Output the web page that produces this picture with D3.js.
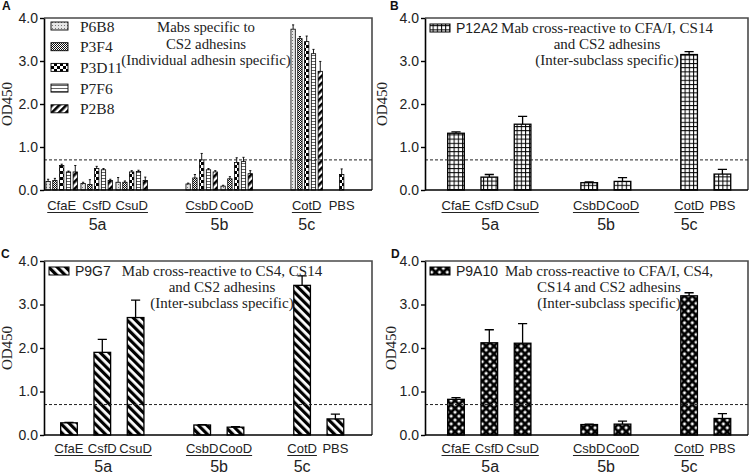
<!DOCTYPE html>
<html><head><meta charset="utf-8">
<script src="https://cdn.jsdelivr.net/npm/d3@7"></script>
<style>body{margin:0;background:#fff}svg{display:block}</style>
</head><body><svg id="c" width="750" height="473"></svg>
<script>
// ---------- data ----------
const categories = ["CfaE","CsfD","CsuD","CsbD","CooD","CotD","PBS"];
const clusters = [["CfaE","CsfD","CsuD"],["CsbD","CooD"],["CotD","PBS"]];
const groupLabels = ["5a","5b","5c"];
const groupUnderlineFrom = ["CfaE","CsbD","CotD"];
const groupUnderlineTo   = ["CsuD","CooD","CotD"];
const yTicks = [0,1,2,3,4];
const cutoff = 0.7;

// Panel A series
const seriesA = ["P6B8","P3F4","P3D11","P7F6","P2B8"];
const P6B8      = [0.20,0.15,0.18,0.14,0.09,3.74,null];
const P6B8_err  = [0.05,0.03,0.11,0.02,0.02,0.10,null];
const P3F4      = [0.22,0.13,0.18,0.28,0.26,3.52,null];
const P3F4_err  = [0.05,0.11,0.03,0.08,0.05,0.05,null];
const P3D11     = [0.57,0.50,0.42,0.70,0.64,3.45,0.36];
const P3D11_err = [0.03,0.05,0.03,0.15,0.11,0.13,0.13];
const P7F6      = [0.42,0.47,0.43,0.47,0.66,3.17,null];
const P7F6_err  = [0.02,0.03,0.03,0.03,0.10,0.10,null];
const P2B8      = [0.42,0.22,0.22,0.42,0.38,2.76,null];
const P2B8_err  = [0.15,0.03,0.08,0.03,0.07,0.23,null];

// Panels B-D
const P12A2     = [1.32,0.30,1.53,0.17,0.20,3.15,0.37];
const P12A2_err = [0.03,0.06,0.18,0.02,0.09,0.07,0.11];
const P9G7      = [0.28,1.90,2.70,0.23,0.18,3.44,0.37];
const P9G7_err  = [0.01,0.30,0.40,0.01,0.01,0.22,0.11];
const P9A10     = [0.82,2.12,2.11,0.24,0.25,3.20,0.38];
const P9A10_err = [0.04,0.30,0.45,0.01,0.07,0.07,0.11];

const titleA = ["Mabs specific to","CS2 adhesins","(Individual adhesin specific)"];
const titleB = ["Mab cross-reactive to CFA/I, CS14","and CS2 adhesins","(Inter-subclass specific)"];
const titleC = ["Mab cross-reactive to CS4, CS14","and CS2 adhesins","(Inter-subclass specific)"];
const titleD = ["Mab cross-reactive to CFA/I, CS4,","CS14 and CS2 adhesins","(Inter-subclass specific)"];

// ---------- drawing ----------
const svg = d3.select("#c");
const defs = svg.append("defs");
const SANS = "Arial, 'Liberation Sans', sans-serif";
const SERIF = "'Liberation Serif','Times New Roman',serif";

function pat(id, w, h, transform, draw){
  const p = defs.append("pattern").attr("id",id).attr("patternUnits","userSpaceOnUse")
    .attr("width",w).attr("height",h);
  if (transform) p.attr("patternTransform",transform);
  draw(p);
}
pat("pP6B8",3,3,null,p=>{p.append("rect").attr("width",3).attr("height",3).attr("fill","#e6e6e6");
  p.append("rect").attr("x",1).attr("y",1).attr("width",1).attr("height",1).attr("fill","#777");});
pat("pP3F4",2,2,null,p=>{p.append("rect").attr("width",2).attr("height",2).attr("fill","#fff");
  p.append("rect").attr("width",1).attr("height",1).attr("fill","#111");
  p.append("rect").attr("x",1).attr("y",1).attr("width",1).attr("height",1).attr("fill","#111");});
pat("pP3D11",6,6,null,p=>{p.append("rect").attr("width",6).attr("height",6).attr("fill","#000");
  p.append("rect").attr("width",3).attr("height",3).attr("fill","#fff");
  p.append("rect").attr("x",3).attr("y",3).attr("width",3).attr("height",3).attr("fill","#fff");});
pat("pP7F6",4,3,null,p=>{p.append("rect").attr("width",4).attr("height",3).attr("fill","#fff");
  p.append("rect").attr("y",1).attr("width",4).attr("height",1).attr("fill","#666");});
pat("pP2B8",5,5,"rotate(45)",p=>{p.append("rect").attr("width",5).attr("height",5).attr("fill","#fff");
  p.append("rect").attr("width",2.6).attr("height",5).attr("fill","#000");});
pat("pP12A2",4.2,4.2,null,p=>{p.append("rect").attr("width",4.2).attr("height",4.2).attr("fill","#fff");
  p.append("rect").attr("width",1).attr("height",4.2).attr("fill","#000");
  p.append("rect").attr("width",4.2).attr("height",1).attr("fill","#000");});
pat("pP9G7",6,6,"rotate(-45)",p=>{p.append("rect").attr("width",6).attr("height",6).attr("fill","#fff");
  p.append("rect").attr("width",3.2).attr("height",6).attr("fill","#000");});
pat("pP9A10",5.5,5.5,"rotate(45)",p=>{p.append("rect").attr("width",5.5).attr("height",5.5).attr("fill","#000");
  p.append("rect").attr("x",1.4).attr("y",1.4).attr("width",2.7).attr("height",2.7).attr("fill","#fff");});

const dataMap = {P6B8:[P6B8,P6B8_err],P3F4:[P3F4,P3F4_err],P3D11:[P3D11,P3D11_err],P7F6:[P7F6,P7F6_err],
  P2B8:[P2B8,P2B8_err],P12A2:[P12A2,P12A2_err],P9G7:[P9G7,P9G7_err],P9A10:[P9A10,P9A10_err]};

const slotDomain = [];
clusters.forEach((c,i)=>{ if(i>0) slotDomain.push("gap"+i); c.forEach(k=>slotDomain.push(k)); });

const panels = [
 {letter:"A", lx:2, ly:10, x0:44, x1:372, y0:18, y1:190, ylabX:7, start:17.7, u:35, series:seriesA, title:titleA, tcx:206, multi:true, lab:19.5, ul:22.5, gl:39.5},
 {letter:"B", lx:390, ly:10, x0:425, x1:748, y0:18, y1:190, ylabX:382, start:31, u:33.3, series:["P12A2"], title:titleB, tcx:607, lab:19.5, ul:22.5, gl:39.5},
 {letter:"C", lx:1, ly:258, x0:44, x1:372, y0:261, y1:435, ylabX:7, start:25, u:33.3, series:["P9G7"], title:titleC, tcx:222, lab:17.5, ul:20.5, gl:36.5},
 {letter:"D", lx:391, ly:258, x0:425, x1:748, y0:261, y1:435, ylabX:391, start:31, u:33.3, series:["P9A10"], title:titleD, tcx:609, lab:17.5, ul:20.5, gl:36.5},
];

panels.forEach(P=>{
  const g = svg.append("g");
  const y = d3.scaleLinear().domain([0,4]).range([P.y1,P.y0]);
  const bandStart = P.x0 + P.start - P.u/2;
  const x = d3.scaleBand().domain(slotDomain).range([bandStart, bandStart + P.u*slotDomain.length]).padding(0);

  g.append("path").attr("d",`M${P.x0},${P.y0}H${P.x1}V${P.y1}`).attr("fill","none").attr("stroke","#4a4a4a").attr("stroke-width",1.6);

  let sub, bw;
  if (P.multi){
    sub = d3.scaleBand().domain(P.series).range([-P.u*0.45, P.u*0.45]).paddingInner(0.36);
    bw = sub.bandwidth();
  } else {
    bw = P.u*0.5;
  }
  P.series.forEach(s=>{
    const [vals, errs] = dataMap[s];
    categories.forEach((c,i)=>{
      const v = vals[i]; if (v==null) return;
      const cx = x(c) + x.bandwidth()/2 + (P.multi ? sub(s)+bw/2 : 0);
      g.append("rect").attr("x",cx-bw/2).attr("y",y(v)).attr("width",bw).attr("height",y(0)-y(v))
        .attr("fill",`url(#p${s})`).attr("stroke","#000").attr("stroke-width",P.multi?0.8:1.3);
      const e = errs[i];
      if (e){
        const cw = P.multi ? bw*0.5 : bw*0.55;
        g.append("path").attr("d",`M${cx},${y(v)}V${y(v+e)}M${cx-cw/2},${y(v+e)}H${cx+cw/2}`)
          .attr("stroke","#000").attr("stroke-width",P.multi?0.9:1.3).attr("fill","none");
      }
    });
  });

  g.append("line").attr("x1",P.x0).attr("x2",P.x1).attr("y1",y(cutoff)).attr("y2",y(cutoff))
    .attr("stroke","#222").attr("stroke-width",1).attr("stroke-dasharray","3,2");

  const ax = g.append("g").attr("transform",`translate(${P.x0},0)`)
    .call(d3.axisLeft(y).tickValues(yTicks).tickFormat(d3.format(".1f")).tickSize(4).tickSizeOuter(0).tickPadding(2));
  ax.select(".domain").attr("stroke","#000").attr("stroke-width",1.6);
  ax.selectAll(".tick line").attr("stroke","#000").attr("stroke-width",1.4);
  ax.selectAll("text").attr("font-family",SANS).attr("font-size",14).attr("fill","#222");
  g.append("line").attr("x1",P.x0).attr("x2",P.x1).attr("y1",P.y1).attr("y2",P.y1).attr("stroke","#000").attr("stroke-width",1.6);

  g.append("text").attr("transform",`translate(${P.ylabX},${(P.y0+P.y1)/2}) rotate(-90)`)
    .attr("text-anchor","middle").attr("dominant-baseline","central")
    .attr("font-family",SERIF).attr("font-size",15).attr("fill","#222").text("OD450");

  g.append("text").attr("x",P.lx).attr("y",P.ly).attr("font-family",SANS)
    .attr("font-weight","bold").attr("font-size",12).attr("fill","#111").text(P.letter);

  const labelNodes = {};
  categories.forEach(c=>{
    labelNodes[c] = g.append("text").attr("x",x(c)+x.bandwidth()/2).attr("y",P.y1+P.lab).attr("text-anchor","middle")
      .attr("font-family",SANS).attr("font-size",13).attr("fill","#222").text(c);
  });
  groupLabels.forEach((gl,i)=>{
    const a = labelNodes[groupUnderlineFrom[i]].node().getBBox();
    const b = labelNodes[groupUnderlineTo[i]].node().getBBox();
    const xa = a.x, xb = b.x + b.width;
    g.append("line").attr("x1",xa).attr("x2",xb).attr("y1",P.y1+P.ul).attr("y2",P.y1+P.ul).attr("stroke","#222").attr("stroke-width",1);
    g.append("text").attr("x",(xa+xb)/2).attr("y",P.y1+P.gl).attr("text-anchor","middle")
      .attr("font-family",SANS).attr("font-size",16).attr("fill","#222").text(gl);
  });

  if (P.multi){
    P.series.forEach((s,i)=>{
      const cy = P.y0 + 8 + i*20.7;
      g.append("rect").attr("x",P.x0+7).attr("y",cy-4).attr("width",17).attr("height",8)
        .attr("fill",`url(#p${s})`).attr("stroke","#000").attr("stroke-width",0.9);
      g.append("text").attr("x",P.x0+36).attr("y",cy+5.5).attr("font-family",SERIF)
        .attr("font-size",15.5).attr("fill","#222").text(s);
    });
    P.title.forEach((t,i)=>{
      g.append("text").attr("x",P.tcx).attr("y",P.y0+14+i*16.6).attr("text-anchor","middle")
        .attr("font-family",SERIF).attr("font-size",14.8).attr("fill","#222").text(t);
    });
  } else {
    const s = P.series[0];
    const cy = P.y0 + 10;
    g.append("rect").attr("x",P.x0+5).attr("y",cy-4).attr("width",20).attr("height",8)
      .attr("fill",`url(#p${s})`).attr("stroke","#000").attr("stroke-width",1);
    g.append("text").attr("x",P.x0+31).attr("y",cy+5).attr("font-family",SANS)
      .attr("font-size",14).attr("fill","#222").text(s);
    P.title.forEach((t,i)=>{
      g.append("text").attr("x",P.tcx).attr("y",P.y0+15+i*16).attr("text-anchor","middle")
        .attr("font-family",SERIF).attr("font-size",15).attr("fill","#222").text(t);
    });
  }
});
</script></body></html>
